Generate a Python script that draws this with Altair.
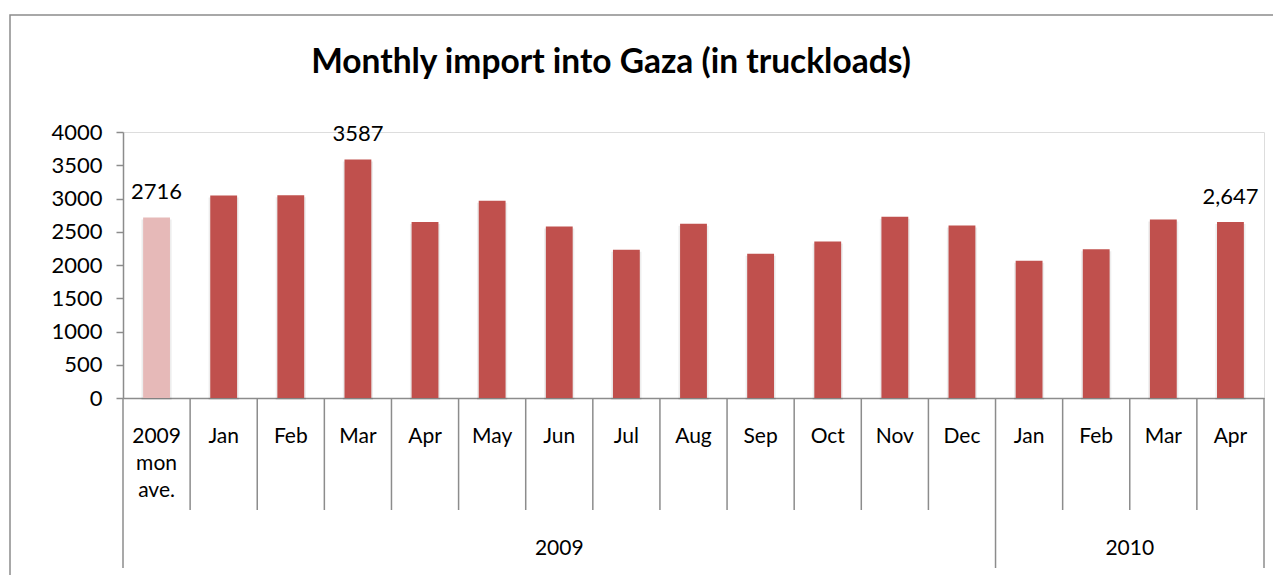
import altair as alt
import pandas as pd

# ---- data ----
keys = ["2009-ave", "2009-Jan", "2009-Feb", "2009-Mar", "2009-Apr", "2009-May",
        "2009-Jun", "2009-Jul", "2009-Aug", "2009-Sep", "2009-Oct", "2009-Nov",
        "2009-Dec", "2010-Jan", "2010-Feb", "2010-Mar", "2010-Apr"]
month_labels = ["2009\nmon\nave.", "Jan", "Feb", "Mar", "Apr", "May", "Jun", "Jul",
                "Aug", "Sep", "Oct", "Nov", "Dec", "Jan", "Feb", "Mar", "Apr"]
years = ["2009"] * 13 + ["2010"] * 4
values = [2716, 3046, 3050, 3587, 2645, 2965, 2580, 2230, 2620, 2170, 2355,
          2725, 2595, 2065, 2235, 2685, 2647]
kinds = ["ave"] + ["month"] * 16
value_labels = ["2716", "", "", "3587", "", "", "", "", "", "", "", "", "", "",
                "", "", "2,647"]
y_ticks = [0, 500, 1000, 1500, 2000, 2500, 3000, 3500, 4000]
title_text = "Monthly import into Gaza (in truckloads)"

W, H = 1141, 266
FONT = "Lato"
GRAY = "#8c8c8c"

df = pd.DataFrame({"key": keys, "label": month_labels, "year": years,
                   "value": values, "kind": kinds, "vlabel": value_labels})

x_enc = alt.X("key:N", sort=keys,
              scale=alt.Scale(paddingInner=0, paddingOuter=0),
              axis=alt.Axis(labels=False, ticks=False, title=None, domainColor=GRAY,
                            domainWidth=1.5))
x_plain = alt.X("key:N", sort=keys)
y_enc = alt.Y("value:Q", scale=alt.Scale(domain=[0, 4000], nice=False),
              axis=alt.Axis(values=y_ticks, tickCount=9, format="d",
                            labelOverlap=False, grid=False,
                            title=None, labelFont=FONT,
                            labelFontSize=22, labelColor="#000000", labelPadding=14,
                            tickSize=7, tickColor=GRAY, tickWidth=1.5,
                            domainColor=GRAY, domainWidth=1.5))

base = alt.Chart(df)

frame = alt.Chart(pd.DataFrame({"frame": [0]})).mark_rect(
    fill="transparent", stroke=GRAY, strokeWidth=1.5
).encode(x=alt.value(-113), x2=alt.value(1250), y=alt.value(-117), y2=alt.value(600))

shadow = base.mark_bar(width=alt.RelativeBandSize(0.45), color="#000000",
                       opacity=0.07, yOffset=2).encode(x=x_enc, y=y_enc)

bars = base.mark_bar(width=alt.RelativeBandSize(0.4)).encode(
    x=x_enc,
    y=y_enc,
    color=alt.Color("kind:N", scale=alt.Scale(domain=["ave", "month"],
                                              range=["#E6B9B8", "#C0504D"]),
                    legend=None),
)

vlabels = base.transform_filter(alt.datum.vlabel != "").mark_text(
    font=FONT, fontSize=22, baseline="alphabetic", dy=-18, color="#000000"
).encode(x=x_plain, y="value:Q", text="vlabel:N")

mlabels = base.mark_text(font=FONT, fontSize=21, baseline="alphabetic",
                         lineBreak="\n", lineHeight=27, color="#000000").encode(
    x=x_plain, y=alt.value(H + 45), text="label:N")

# separators between categories
sep_rows = []
for i, k in enumerate(keys):
    long = i == 0 or years[i] != years[i - 1]
    sep_rows.append({"key": k, "long": long})
sep_df = pd.DataFrame(sep_rows)

short_sep = alt.Chart(sep_df).transform_filter(~alt.datum.long).mark_rule(
    color=GRAY, strokeWidth=1.5).encode(
    x=alt.X("key:N", sort=keys, bandPosition=0), y=alt.value(H), y2=alt.value(H + 112))
long_sep = alt.Chart(sep_df).transform_filter(alt.datum.long).mark_rule(
    color=GRAY, strokeWidth=1.5).encode(
    x=alt.X("key:N", sort=keys, bandPosition=0), y=alt.value(H), y2=alt.value(H + 170))
end_sep = alt.Chart(pd.DataFrame({"key": [keys[-1]]})).mark_rule(
    color=GRAY, strokeWidth=1.5).encode(
    x=alt.X("key:N", sort=keys, bandPosition=1), y=alt.value(H), y2=alt.value(H + 170))

# year group labels, centred on their span
year_layers = []
for yr in sorted(set(years)):
    idx = [i for i, y in enumerate(years) if y == yr]
    centre = idx[0] + len(idx) / 2.0
    ci = int(centre)
    frac = centre - ci
    if ci > idx[-1]:
        ci, frac = idx[-1], 1.0
    year_layers.append(
        alt.Chart(pd.DataFrame({"key": [keys[ci]], "year": [yr]})).mark_text(
            font=FONT, fontSize=21, baseline="alphabetic", color="#000000").encode(
            x=alt.X("key:N", sort=keys, bandPosition=frac), y=alt.value(H + 157),
            text="year:N"))

title_layer = alt.Chart(pd.DataFrame({"t": [title_text]})).mark_text(
    font=FONT, fontSize=33.5, fontWeight="bold", baseline="alphabetic",
    align="center", color="#000000").encode(
    x=alt.value(488), y=alt.value(-59), text="t:N")

chart = alt.layer(frame, shadow, bars, vlabels, mlabels, short_sep, long_sep,
                  end_sep, *year_layers, title_layer).properties(
    width=W, height=H,
    autosize=alt.AutoSizeParams(type="none"),
    padding={"left": 115, "top": 124, "right": 9, "bottom": 177},
).configure_view(stroke=None).configure(background="#ffffff")

chart.save("out.html", embed_options={"renderer": "svg", "actions": False})
